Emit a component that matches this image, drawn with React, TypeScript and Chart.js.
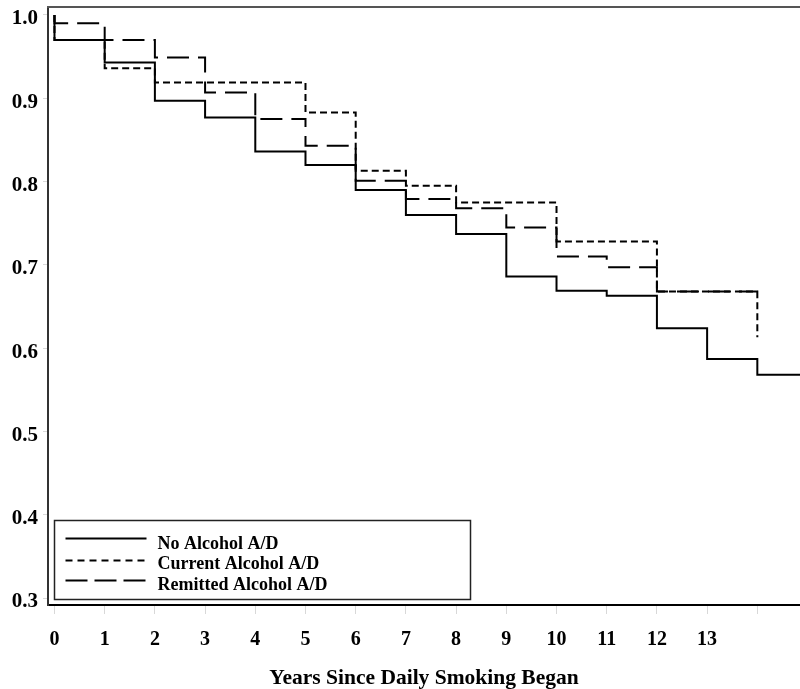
import React, { useEffect, useRef } from 'react';
import { Chart, registerables } from 'chart.js';

Chart.register(...registerables);

// ---- Data ----
const years = [0, 1, 2, 3, 4, 5, 6, 7, 8, 9, 10, 11, 12, 13, 14];
const xTickLabels = ['0', '1', '2', '3', '4', '5', '6', '7', '8', '9', '10', '11', '12', '13', ''];
const yTickValues = [0.3, 0.4, 0.5, 0.6, 0.7, 0.8, 0.9, 1.0];
const seriesLabels = ['No Alcohol A/D', 'Current Alcohol A/D', 'Remitted Alcohol A/D'];
const startSurvival = 1.0;
const noAlcohol = [0.970, 0.943, 0.897, 0.877, 0.836, 0.820, 0.790, 0.760, 0.737, 0.686, 0.669, 0.663, 0.624, 0.587, 0.568];
const currentAlcohol = [0.970, 0.936, 0.919, 0.919, 0.919, 0.883, 0.813, 0.795, 0.775, 0.775, 0.728, 0.728, 0.668, 0.668, 0.613];
const remittedAlcohol = [0.990, 0.970, 0.949, 0.907, 0.875, 0.843, 0.801, 0.779, 0.768, 0.745, 0.710, 0.697, 0.668, 0.668, 0.668];
const noAlcoholFollowUpEnd = 15;
const xTitle = 'Years Since Daily Smoking Began';

const FONT = '"Liberation Serif", "Times New Roman", serif';

function buildSteps(values: number[], tailX?: number) {
  const pts = [{ x: years[0], y: startSurvival }];
  years.forEach((t, i) => pts.push({ x: t, y: values[i] }));
  if (tailX !== undefined) pts.push({ x: tailX, y: values[values.length - 1] });
  return pts;
}

const frameTop = {
  id: 'frameTop',
  afterDraw(chart: any) {
    const { ctx, chartArea } = chart;
    ctx.save();
    ctx.strokeStyle = '#555';
    ctx.lineWidth = 2;
    ctx.beginPath();
    ctx.moveTo(chartArea.left - 1, chartArea.top);
    ctx.lineTo(chartArea.right, chartArea.top);
    ctx.stroke();
    ctx.restore();
  },
};

const boxLegend = {
  id: 'boxLegend',
  afterDraw(chart: any) {
    const { ctx, chartArea } = chart;
    const x0 = chartArea.left + 6.5;
    const w = 416;
    const h = 79;
    const y0 = chartArea.bottom - 6 - h + 0.5;
    ctx.save();
    ctx.fillStyle = '#fff';
    ctx.fillRect(x0, y0, w, h);
    ctx.strokeStyle = '#222';
    ctx.lineWidth = 1.5;
    ctx.strokeRect(x0, y0, w, h);
    const lineYs = [18, 40, 60];
    const textYs = [28, 48.5, 69];
    chart.data.datasets.forEach((ds: any, i: number) => {
      ctx.save();
      ctx.strokeStyle = '#000';
      ctx.lineWidth = 2;
      ctx.setLineDash(ds.legendDash || []);
      ctx.beginPath();
      ctx.moveTo(x0 + 11, y0 + lineYs[i]);
      ctx.lineTo(x0 + 92, y0 + lineYs[i]);
      ctx.stroke();
      ctx.restore();
      ctx.fillStyle = '#000';
      ctx.font = `bold 18px ${FONT}`;
      ctx.textBaseline = 'alphabetic';
      ctx.textAlign = 'left';
      ctx.fillText(ds.label, x0 + 103, y0 + textYs[i]);
    });
    ctx.restore();
  },
};

export default function App() {
  const ref = useRef<HTMLCanvasElement>(null);

  useEffect(() => {
    if (!ref.current) return;
    const chart = new Chart(ref.current, {
      type: 'line',
      data: {
        datasets: [
          {
            label: seriesLabels[0],
            data: buildSteps(noAlcohol, noAlcoholFollowUpEnd),
            borderColor: '#000',
            borderWidth: 2,
            stepped: true,
            pointRadius: 0,
            fill: false,
            legendDash: [],
          } as any,
          {
            label: seriesLabels[1],
            data: buildSteps(currentAlcohol),
            borderColor: '#000',
            borderWidth: 2,
            borderDash: [7, 4],
            stepped: true,
            pointRadius: 0,
            fill: false,
            legendDash: [7, 5],
          } as any,
          {
            label: seriesLabels[2],
            data: buildSteps(remittedAlcohol),
            borderColor: '#000',
            borderWidth: 2,
            borderDash: [22, 9],
            stepped: true,
            pointRadius: 0,
            fill: false,
            legendDash: [22, 7],
          } as any,
        ],
      },
      options: {
        responsive: false,
        animation: false,
        layout: { padding: { top: 7, right: 0, bottom: 0, left: 0 } },
        plugins: {
          legend: { display: false },
          tooltip: { enabled: false },
          title: { display: false },
        },
        scales: {
          x: {
            type: 'linear',
            min: -0.129,
            max: 14.85,
            afterBuildTicks: (scale: any) => {
              scale.ticks = years.map((v) => ({ value: v }));
            },
            afterFit: (scale: any) => {
              scale.height = 84;
              scale.paddingLeft = 0;
              scale.paddingRight = 0;
            },
            ticks: {
              autoSkip: false,
              maxRotation: 0,
              padding: 14,
              color: '#000',
              font: { family: FONT, size: 20, weight: 'bold' },
              callback: (v: any, i: number) => xTickLabels[i] ?? '',
            },
            grid: {
              drawOnChartArea: false,
              drawTicks: true,
              tickLength: 9,
              color: '#d8d8d8',
              lineWidth: 1,
            },
            border: { display: true, color: '#000', width: 2 },
            title: {
              display: true,
              text: xTitle,
              color: '#000',
              font: { family: FONT, size: 21.5, weight: 'bold' },
              padding: { top: 0, bottom: -2 },
            },
          },
          y: {
            type: 'linear',
            min: 0.2916,
            max: 1.0096,
            afterBuildTicks: (scale: any) => {
              scale.ticks = yTickValues.map((v) => ({ value: v }));
            },
            afterFit: (scale: any) => {
              scale.width = 48;
              scale.paddingTop = 0;
              scale.paddingBottom = 0;
            },
            ticks: {
              padding: 5,
              labelOffset: 4,
              color: '#000',
              font: { family: FONT, size: 21, weight: 'bold' },
              callback: (v: any) => Number(v).toFixed(1),
            },
            grid: {
              drawOnChartArea: false,
              drawTicks: true,
              tickLength: 5,
              color: '#d8d8d8',
              lineWidth: 1,
            },
            border: { display: true, color: '#333', width: 2 },
          },
        },
      } as any,
      plugins: [frameTop, boxLegend],
    });
    return () => chart.destroy();
  }, []);

  return (
    <div style={{ position: 'fixed', left: 0, top: 0, width: 800, height: 689, background: '#fff' }}>
      <canvas ref={ref} width={800} height={689} style={{ display: 'block', width: 800, height: 689 }} />
    </div>
  );
}
